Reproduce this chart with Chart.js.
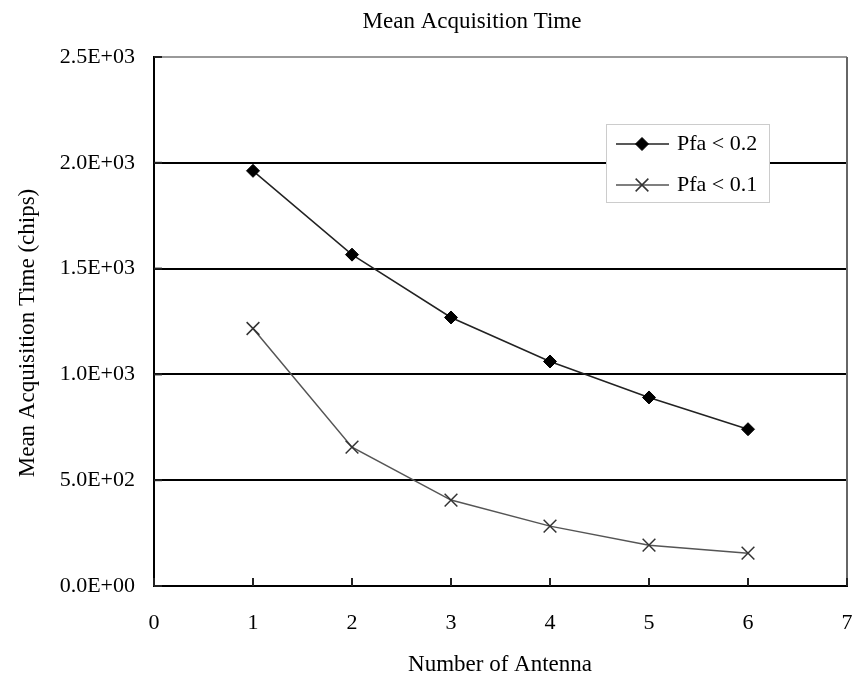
<!DOCTYPE html>
<html lang="en">
<head>
  <meta charset="UTF-8" />
  <title>Mean Acquisition Time</title>
  <script src="https://cdn.jsdelivr.net/npm/chart.js"></script>
  <style>
    body {
      margin: 0;
      background: #fff;
    }
    canvas {
      display: block;
    }
  </style>
</head>
<body>
  <canvas id="chart" width="854" height="677"></canvas>

  <script>
    const antennas = [1, 2, 3, 4, 5, 6];
    const pfa02 = [1962, 1566, 1269, 1061, 891, 741];
    const pfa01 = [1217, 656, 406, 283, 193, 155];
    const xTicks = [0, 1, 2, 3, 4, 5, 6, 7];
    const yTicks = [0, 500, 1000, 1500, 2000, 2500];

    const FONT = 'Liberation Serif';

    // 2.5E+03 style labels
    function sci(v) {
      if (v === 0) return '0.0E+00';
      const e = Math.floor(Math.log10(v));
      const m = v / Math.pow(10, e);
      return m.toFixed(1) + 'E+' + String(e).padStart(2, '0');
    }

    const decor = {
      id: 'decor',
      afterDatasetsDraw(chart) {
        const ctx = chart.ctx;
        const area = chart.chartArea;
        const xs = chart.scales.x;
        const ys = chart.scales.y;

        ctx.save();
        // right border
        ctx.strokeStyle = '#666';
        ctx.lineWidth = 2;
        ctx.beginPath();
        ctx.moveTo(area.right, area.top);
        ctx.lineTo(area.right, area.bottom);
        ctx.stroke();

        // inward tick marks
        ctx.strokeStyle = '#222';
        ctx.lineWidth = 2;
        xTicks.forEach(t => {
          const px = xs.getPixelForValue(t);
          ctx.beginPath();
          ctx.moveTo(px, area.bottom);
          ctx.lineTo(px, area.bottom - 8);
          ctx.stroke();
        });
        yTicks.forEach(t => {
          const py = ys.getPixelForValue(t);
          ctx.beginPath();
          ctx.moveTo(area.left, py);
          ctx.lineTo(area.left + 8, py);
          ctx.stroke();
        });

        // legend
        const lx = 606, ly = 124, lw = 163, lh = 78;
        ctx.fillStyle = '#fff';
        ctx.fillRect(lx, ly, lw, lh);
        ctx.strokeStyle = '#ccc';
        ctx.lineWidth = 1;
        ctx.strokeRect(lx + 0.5, ly + 0.5, lw, lh);
        const rows = [144, 185];
        chart.data.datasets.forEach((ds, i) => {
          const y = rows[i];
          ctx.strokeStyle = ds.borderColor;
          ctx.lineWidth = ds.borderWidth;
          ctx.beginPath();
          ctx.moveTo(616, y);
          ctx.lineTo(669, y);
          ctx.stroke();
          ctx.fillStyle = ds.pointBackgroundColor;
          ctx.strokeStyle = ds.pointBorderColor;
          ctx.lineWidth = ds.pointBorderWidth;
          Chart.helpers.drawPoint(ctx, {
            pointStyle: ds.pointStyle,
            radius: ds.pointRadius,
            borderWidth: ds.pointBorderWidth
          }, 642, y);
          ctx.fillStyle = '#000';
          ctx.font = '22px "' + FONT + '"';
          ctx.textAlign = 'left';
          ctx.textBaseline = 'middle';
          ctx.fillText(ds.label, 677, y);
        });
        ctx.restore();
      },
      afterDraw(chart) {
        const ctx = chart.ctx;
        ctx.save();
        ctx.fillStyle = '#000';
        ctx.textAlign = 'center';
        ctx.textBaseline = 'middle';
        ctx.font = '23px "' + FONT + '"';
        ctx.fillText('Mean Acquisition Time', 472, 22);
        ctx.fillText('Number of Antenna', 500, 665);
        ctx.translate(28, 333);
        ctx.rotate(-Math.PI / 2);
        ctx.fillText('Mean Acquisition Time (chips)', 0, 0);
        ctx.restore();
      }
    };

    new Chart(document.getElementById('chart').getContext('2d'), {
      type: 'line',
      data: {
        datasets: [
          {
            label: 'Pfa < 0.2',
            data: antennas.map((a, i) => ({ x: a, y: pfa02[i] })),
            borderColor: '#222',
            borderWidth: 1.5,
            pointStyle: 'rectRot',
            pointRadius: 6.5,
            pointBorderWidth: 1,
            pointBackgroundColor: '#000',
            pointBorderColor: '#000'
          },
          {
            label: 'Pfa < 0.1',
            data: antennas.map((a, i) => ({ x: a, y: pfa01[i] })),
            borderColor: '#555',
            borderWidth: 1.5,
            pointStyle: 'crossRot',
            pointRadius: 9,
            pointBorderWidth: 1.5,
            pointBackgroundColor: '#333',
            pointBorderColor: '#333'
          }
        ]
      },
      options: {
        responsive: false,
        animation: false,
        layout: {
          autoPadding: false,
          padding: { left: 0, top: 57, right: 7, bottom: 0 }
        },
        plugins: {
          legend: { display: false },
          title: { display: false },
          tooltip: { enabled: false }
        },
        scales: {
          x: {
            type: 'linear',
            min: 0,
            max: 7,
            ticks: {
              stepSize: 1,
              color: '#000',
              padding: 24,
              font: { family: FONT, size: 22 }
            },
            grid: { display: false, drawTicks: false },
            border: { display: true, color: '#000', width: 2 },
            afterFit(scale) {
              scale.height = 91;
              scale.paddingLeft = 0;
              scale.paddingRight = 0;
            }
          },
          y: {
            min: 0,
            max: 2500,
            ticks: {
              stepSize: 500,
              color: '#000',
              padding: 19,
              font: { family: FONT, size: 22 },
              callback: v => sci(v)
            },
            grid: {
              drawTicks: false,
              lineWidth: 2,
              color: c => (c.tick && c.tick.value === 2500 ? '#999' : '#000')
            },
            border: { display: true, color: '#000', width: 2 },
            afterFit(scale) { scale.width = 154; }
          }
        }
      },
      plugins: [decor]
    });
  </script>
</body>
</html>
